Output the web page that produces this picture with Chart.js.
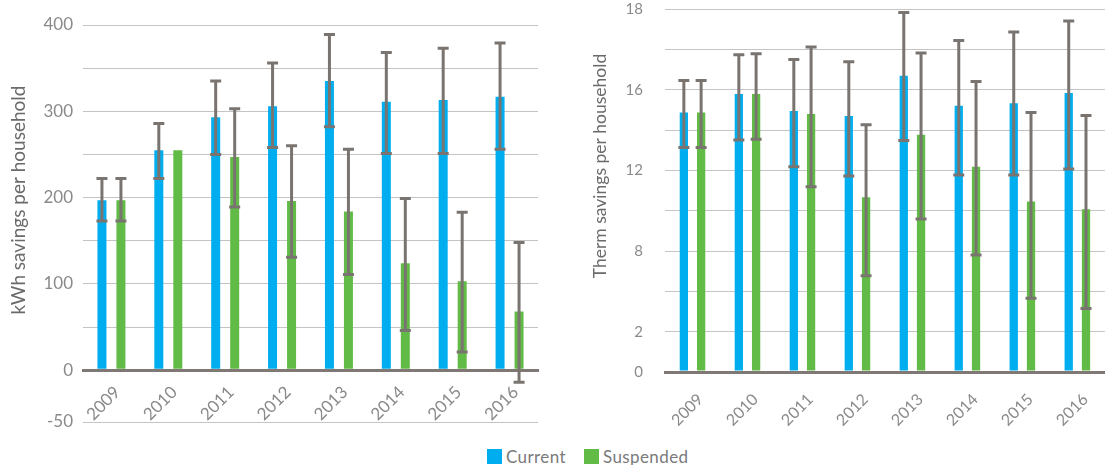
<!DOCTYPE html>
<html>
<head>
<meta charset="utf-8">
<script src="https://cdn.jsdelivr.net/npm/chart.js"></script>
<style>
    html, body { margin: 0; padding: 0; background: #fff; }
    body { width: 1109px; height: 465px; position: relative; overflow: hidden; font-family: Lato, sans-serif; }
    #kwhChart { position: absolute; left: 0; top: 0; }
    #thermChart { position: absolute; left: 555px; top: 0; }
    .legend { position: absolute; left: 487px; top: 446px; display: flex; align-items: center; font-size: 17px; letter-spacing: 0.4px; color: #7a7a7a; }
    .legend span.box { width: 15px; height: 15px; display: inline-block; margin-right: 4px; }
    .legend span.label { margin-right: 18px; }
</style>
</head>
<body>
<canvas id="kwhChart" width="550" height="440"></canvas>
<canvas id="thermChart" width="554" height="440"></canvas>
<div class="legend">
    <span class="box" style="background:#00aeef"></span><span class="label">Current</span>
    <span class="box" style="background:#62bb46"></span><span class="label">Suspended</span>
</div>
<script>
const years = ['2009', '2010', '2011', '2012', '2013', '2014', '2015', '2016'];

// kWh per household (left)
const kwhCurrent = [197, 255, 293, 306, 335, 311, 313, 317];
const kwhCurrentHigh = [222, 286, 335, 356, 389, 368, 373, 379];
const kwhCurrentLow = [173, 222, 250, 258, 282, 251, 251, 256];
const kwhSuspended = [197, 255, 247, 196, 184, 124, 103, 68];
const kwhSuspendedHigh = [222, null, 303, 260, 256, 199, 183, 148];
const kwhSuspendedLow = [173, null, 189, 131, 111, 46, 21, -14];
const kwhTickValues = [-60, 0, 50, 100, 150, 200, 250, 300, 350, 400];
const kwhTickLabels = ['-50', '0', '', '100', '', '200', '', '300', '', '400'];

// therms per household (right) - gridlines are evenly spaced, labels are not
const thermCurrent = [12.87, 13.78, 12.94, 12.70, 14.69, 13.20, 13.33, 13.83];
const thermCurrentHigh = [14.46, 15.73, 15.50, 15.38, 17.83, 16.44, 16.86, 17.41];
const thermCurrentLow = [11.13, 11.51, 10.18, 9.72, 11.48, 9.77, 9.77, 10.07];
const thermSuspended = [12.87, 13.78, 12.79, 8.66, 11.76, 10.18, 8.46, 8.07];
const thermSuspendedHigh = [14.46, 15.78, 16.11, 12.26, 15.82, 14.41, 12.87, 12.72];
const thermSuspendedLow = [11.13, 11.54, 9.19, 4.77, 7.59, 5.80, 3.66, 3.15];
const thermTickValues = [0, 2, 4, 6, 8, 10, 12, 14, 16, 18];
const thermTickLabels = ['0', '2', '', '8', '', '12', '', '16', '', '18'];

const BLUE = '#00aeef';
const GREEN = '#62bb46';
const AXIS = '#7f7875';
const GRID = '#c4c4c4';
const TICK = '#8a8a8a';

const errorBars = {
    id: 'errorBars',
    afterDatasetsDraw(chart, args, opts) {
        const { ctx } = chart;
        const yScale = chart.scales.y;
        ctx.save();
        ctx.strokeStyle = opts.color;
        ctx.lineWidth = opts.width;
        chart.data.datasets.forEach((ds, i) => {
            chart.getDatasetMeta(i).data.forEach((bar, j) => {
                const hi = ds.errorHigh?.[j];
                const lo = ds.errorLow?.[j];
                if (hi == null || lo == null) return;
                const top = yScale.getPixelForValue(hi);
                const bottom = yScale.getPixelForValue(lo);
                const half = opts.cap / 2;
                ctx.beginPath();
                ctx.moveTo(bar.x, top);
                ctx.lineTo(bar.x, bottom);
                ctx.moveTo(bar.x - half, top);
                ctx.lineTo(bar.x + half, top);
                ctx.moveTo(bar.x - half, bottom);
                ctx.lineTo(bar.x + half, bottom);
                ctx.stroke();
            });
        });
        ctx.restore();
    },
};

// y title sits above the chart-area centre in the source, so draw it ourselves
const sideTitle = {
    id: 'sideTitle',
    afterDraw(chart, args, o) {
        const { ctx } = chart;
        ctx.save();
        ctx.translate(o.x, o.y);
        ctx.rotate(-Math.PI / 2);
        ctx.font = o.font;
        ctx.fillStyle = o.color;
        ctx.textAlign = 'center';
        ctx.textBaseline = 'middle';
        ctx.fillText(o.text, 0, 0);
        ctx.restore();
    },
};

function makeChart(id, cfg) {
    return new Chart(document.getElementById(id), {
        type: 'bar',
        data: {
            labels: years,
            datasets: [
                {
                    label: 'Current',
                    data: cfg.current,
                    errorHigh: cfg.currentHigh,
                    errorLow: cfg.currentLow,
                    backgroundColor: BLUE,
                    categoryPercentage: cfg.catPct,
                    barPercentage: cfg.barPct,
                },
                {
                    label: 'Suspended',
                    data: cfg.suspended,
                    errorHigh: cfg.suspendedHigh,
                    errorLow: cfg.suspendedLow,
                    backgroundColor: GREEN,
                    categoryPercentage: cfg.catPct,
                    barPercentage: cfg.barPct,
                },
            ],
        },
        plugins: [errorBars, sideTitle],
        options: {
            responsive: false,
            animation: false,
            devicePixelRatio: 1,
            layout: { padding: cfg.padding },
            scales: {
                x: {
                    position: cfg.xPosition,
                    grid: { display: false, drawTicks: false },
                    border: { display: true, color: AXIS, width: 3 },
                    ticks: {
                        color: TICK,
                        font: { family: 'Lato', size: cfg.xFont },
                        minRotation: 45,
                        maxRotation: 45,
                        padding: cfg.xPad,
                        labelOffset: cfg.xOffset,
                        autoSkip: false,
                    },
                    afterFit: (s) => { if (cfg.xHeight) s.height = cfg.xHeight; },
                },
                y: {
                    min: cfg.tickValues[0],
                    max: cfg.tickValues[cfg.tickValues.length - 1],
                    afterBuildTicks: (s) => { s.ticks = cfg.tickValues.map((v) => ({ value: v })); },
                    afterFit: (s) => {
                        s.width = cfg.yWidth;
                        s.paddingTop = 0;
                        s.paddingBottom = 0;
                    },
                    grid: {
                        drawTicks: false,
                        color: cfg.tickValues.map((v) => (v === 0 ? AXIS : GRID)),
                        lineWidth: cfg.tickValues.map((v) => (v === 0 ? 3 : 1)),
                    },
                    border: { display: false },
                    ticks: {
                        color: TICK,
                        font: { family: 'Lato', size: cfg.yFont },
                        padding: cfg.yPad,
                        callback: (v, i) => cfg.tickLabels[i],
                    },
                },
            },
            plugins: {
                legend: { display: false },
                tooltip: { enabled: false },
                errorBars: { color: '#7a7470', width: 3, cap: 11 },
                sideTitle: cfg.title,
            },
        },
    });
}

makeChart('kwhChart', {
    current: kwhCurrent,
    currentHigh: kwhCurrentHigh,
    currentLow: kwhCurrentLow,
    suspended: kwhSuspended,
    suspendedHigh: kwhSuspendedHigh,
    suspendedLow: kwhSuspendedLow,
    tickValues: kwhTickValues,
    tickLabels: kwhTickLabels,
    catPct: 0.668,
    barPct: 0.474,
    padding: { top: 25, right: 12, bottom: 18, left: 0 },
    xPosition: { y: 0 },
    xFont: 17,
    xPad: 12,
    xOffset: 6,
    xHeight: null,
    yWidth: 83,
    yFont: 17,
    yPad: 10,
    title: { text: 'kWh savings per household', x: 19, y: 200, font: '19px Lato', color: '#6b6b6b' },
});

makeChart('thermChart', {
    current: thermCurrent,
    currentHigh: thermCurrentHigh,
    currentLow: thermCurrentLow,
    suspended: thermSuspended,
    suspendedHigh: thermSuspendedHigh,
    suspendedLow: thermSuspendedLow,
    tickValues: thermTickValues,
    tickLabels: thermTickLabels,
    catPct: 0.628,
    barPct: 0.48,
    padding: { top: 9, right: 1, bottom: 4, left: 0 },
    xPosition: 'bottom',
    xFont: 16,
    xPad: 18,
    xOffset: 8,
    xHeight: 64,
    yWidth: 110,
    yFont: 15,
    yPad: 22,
    title: { text: 'Therm savings per household', x: 45, y: 166, font: '17.5px Lato', color: '#6b6b6b' },
});
</script>
</body>
</html>
